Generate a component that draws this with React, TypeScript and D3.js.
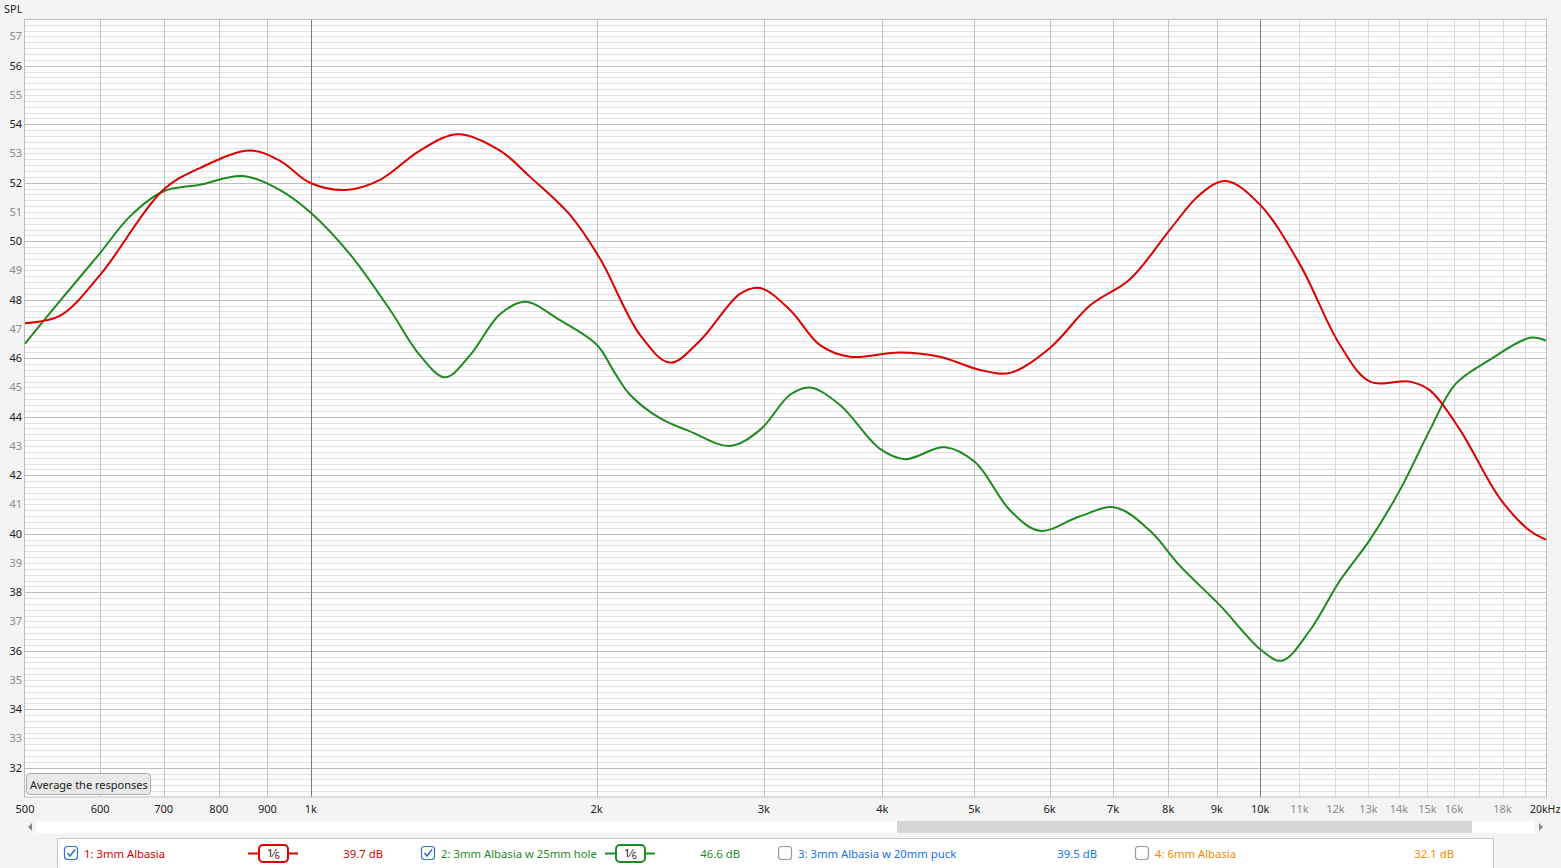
import React from 'react';
import * as d3 from 'd3';

// ---- data ----
const redFreq = [500, 544, 600, 699, 764, 863, 928, 998, 1087, 1183, 1303, 1429, 1582, 1702, 1875, 2017, 2222, 2390, 2570, 2832, 2973, 3197, 3438, 3698, 4175, 4600, 5068, 5451, 6006, 6617, 7292, 8036, 8641, 9204, 9995, 11014, 12136, 13052, 14382, 15094, 16236, 17889, 19237, 20000];
const redDb = [47.2, 47.45, 48.85, 51.75, 52.5, 53.1, 52.75, 52.0, 51.75, 52.1, 53.1, 53.66, 53.1, 52.2, 50.9, 49.4, 46.8, 45.85, 46.6, 48.2, 48.4, 47.65, 46.45, 46.05, 46.2, 46.05, 45.6, 45.5, 46.35, 47.8, 48.7, 50.4, 51.6, 52.06, 51.25, 49.2, 46.45, 45.2, 45.2, 44.9, 43.55, 41.2, 40.1, 39.8];

const greenFreq = [500, 544, 600, 645, 699, 764, 848, 928, 998, 1100, 1212, 1303, 1385, 1471, 1582, 1681, 1830, 2002, 2090, 2169, 2332, 2508, 2764, 2973, 3197, 3356, 3609, 3977, 4226, 4656, 5007, 5451, 5862, 6459, 7032, 7655, 8232, 9071, 10045, 10544, 11284, 12136, 13052, 14037, 15094, 16038, 17459, 19237, 20000];
const greenDb = [46.5, 47.95, 49.6, 50.85, 51.7, 51.93, 52.23, 51.75, 51.0, 49.55, 47.65, 46.1, 45.35, 46.1, 47.5, 47.93, 47.3, 46.45, 45.5, 44.75, 43.95, 43.5, 43.0, 43.55, 44.75, 45.0, 44.4, 42.9, 42.55, 42.96, 42.45, 40.8, 40.1, 40.6, 40.9, 40.1, 38.9, 37.55, 36.0, 35.66, 36.7, 38.4, 39.8, 41.5, 43.55, 45.1, 45.95, 46.7, 46.6];

const yTickValues = d3.range(32, 58);
const xLabelFreqs = [500, 600, 700, 800, 900, 1000, 2000, 3000, 4000, 5000, 6000, 7000, 8000, 9000, 10000, 11000, 12000, 13000, 14000, 15000, 16000, 18000, 20000];
const xLabelTexts = ['500', '600', '700', '800', '900', '1k', '2k', '3k', '4k', '5k', '6k', '7k', '8k', '9k', '10k', '11k', '12k', '13k', '14k', '15k', '16k', '18k', '20kHz'];
const gridFreqs = [600, 700, 800, 900, 1000, 2000, 3000, 4000, 5000, 6000, 7000, 8000, 9000, 10000, 11000, 12000, 13000, 14000, 15000, 16000, 17000, 18000, 19000];

const legendNames = ['1: 3mm Albasia', '2: 3mm Albasia w 25mm hole', '3: 3mm Albasia w 20mm puck', '4: 6mm Albasia'];
const legendValues = ['39.7 dB', '46.6 dB', '39.5 dB', '32.1 dB'];
const legendColors = ['#d80000', '#1f8a1f', '#1a6ff0', '#f08a00'];
const legendChecked = [true, true, false, false];

const W = 1561;
const H = 868;
const L = 24.5, T = 19.5, R = 1546.5, B = 797;
const FONT = '"Noto Sans", "Open Sans", sans-serif';

export default function App() {
  const x = d3.scaleLog().domain([500, 20000]).range([25, 1546]);
  const y = d3.scaleLinear().domain([31.0, 57.58]).range([B, T]);

  const line = d3
    .line<[number, number]>()
    .x((d) => x(d[0]))
    .y((d) => y(d[1]))
    .curve(d3.curveCatmullRom.alpha(0.5));

  const redPath = line(redFreq.map((f, i) => [f, redDb[i]] as [number, number])) || '';
  const greenPath = line(greenFreq.map((f, i) => [f, greenDb[i]] as [number, number])) || '';

  const minorLines: JSX.Element[] = [];
  const majorLines: JSX.Element[] = [];
  for (let i = 156; i <= 287; i++) {
    const v = i / 5;
    const isMajor = i % 10 === 0;
    const yy = Math.round(y(v)) + 0.5;
    const el = (
      <line key={'h' + i} x1={L} x2={R} y1={yy} y2={yy} stroke={isMajor ? '#bdbdbd' : '#e1e1e1'} strokeWidth={1} />
    );
    (isMajor ? majorLines : minorLines).push(el);
  }

  const vLines = gridFreqs.map((f) => {
    const xx = Math.round(x(f)) + 0.5;
    const color = f === 1000 || f === 10000 ? '#7a7a7a' : f > 10000 ? '#dadada' : '#c2c2c2';
    return <line key={'v' + f} x1={xx} x2={xx} y1={T} y2={B} stroke={color} strokeWidth={1} />;
  });

  const legendLayout = [
    { cb: 64, name: 84, icon: 248, val: 383 },
    { cb: 421, name: 441, icon: 605, val: 740 },
    { cb: 778, name: 798, icon: -1, val: 1097 },
    { cb: 1135, name: 1155, icon: -1, val: 1454 },
  ];

  return (
    <svg
      width={W}
      height={H}
      style={{ position: 'absolute', left: 0, top: 0, display: 'block', background: '#f4f4f4' }}
      fontFamily={FONT}
    >
      <defs>
        <clipPath id="plotClip">
          <rect x={L} y={T} width={R - L} height={B - T} />
        </clipPath>
      </defs>
      <rect x={0} y={0} width={W} height={H} fill="#f4f4f4" />
      <text x={4} y={13} fontSize={11} fill="#222">SPL</text>

      <rect x={L} y={T} width={R - L} height={B - T} fill="#ffffff" />
      {minorLines}
      {majorLines}
      {vLines}
      <rect x={L} y={T} width={R - L} height={B - T} fill="none" stroke="#bdbdbd" strokeWidth={1} />

      {yTickValues.map((v) => (
        <text
          key={'yl' + v}
          x={22}
          y={y(v) + 4}
          fontSize={11}
          textAnchor="end"
          fill={v % 2 === 0 ? '#222' : '#8a8a8a'}
        >
          {v}
        </text>
      ))}

      {xLabelFreqs.map((f, i) => {
        const isLast = f === 20000;
        const gray = f > 10000 && f < 20000;
        return (
          <text
            key={'xl' + f}
            x={isLast ? x(f) - 16 : x(f)}
            y={813}
            fontSize={isLast ? 10.5 : 11}
            textAnchor={isLast ? 'start' : 'middle'}
            fill={gray ? '#8a8a8a' : '#222'}
          >
            {xLabelTexts[i]}
          </text>
        );
      })}

      <g clipPath="url(#plotClip)">
        <path d={greenPath} fill="none" stroke="#1f8a1f" strokeWidth={2} strokeLinejoin="round" />
        <path d={redPath} fill="none" stroke="#dc0000" strokeWidth={2} strokeLinejoin="round" />
      </g>

      {/* Average button */}
      <rect x={26.5} y={773.5} width={124} height={21} rx={3} fill="#e9e9e9" stroke="#adadad" />
      <text x={30} y={788.5} fontSize={11} fill="#222">Average the responses</text>

      {/* scrollbar */}
      <rect x={36} y={821} width={1498} height={12} fill="#ffffff" />
      <rect x={897} y={821} width={575} height={12} fill="#d5d5d5" />
      <path d="M32,823 L28,827 L32,831 Z" fill="#8a8a8a" />
      <path d="M1539,823 L1543,827 L1539,831 Z" fill="#8a8a8a" />

      {/* legend */}
      <rect x={57.5} y={838.5} width={1436} height={31} fill="#ffffff" stroke="#c8c8c8" />
      {legendNames.map((name, i) => {
        const lay = legendLayout[i];
        const c = legendColors[i];
        const checked = legendChecked[i];
        return (
          <g key={'lg' + i}>
            <rect
              x={lay.cb + 0.5}
              y={846.5}
              width={13}
              height={13}
              rx={3}
              fill="#ffffff"
              stroke={checked ? '#2f74d0' : '#9a9a9a'}
              strokeWidth={1.2}
            />
            {checked && (
              <path
                d={`M${lay.cb + 3.5},${853} L${lay.cb + 6},${856} L${lay.cb + 11},${849.5}`}
                fill="none"
                stroke="#2f74d0"
                strokeWidth={1.6}
              />
            )}
            <text x={lay.name} y={857.5} fontSize={11.3} fill={c}>
              {name}
            </text>
            {lay.icon > 0 && (
              <g>
                <line x1={lay.icon} x2={lay.icon + 50} y1={853.5} y2={853.5} stroke={c} strokeWidth={2} />
                <rect x={lay.icon + 11} y={845} width={29} height={17} rx={4} fill="#ffffff" stroke={c} strokeWidth={2} />
                <text x={lay.icon + 25.5} y={857} fontSize={11} fill="#222" textAnchor="middle">
                  <tspan>1</tspan>
                  <tspan>⁄</tspan>
                  <tspan fontSize={9} dy={2}>6</tspan>
                </text>
              </g>
            )}
            <text x={lay.val} y={857.5} fontSize={11.3} fill={c} textAnchor="end">
              {legendValues[i]}
            </text>
          </g>
        );
      })}
    </svg>
  );
}
